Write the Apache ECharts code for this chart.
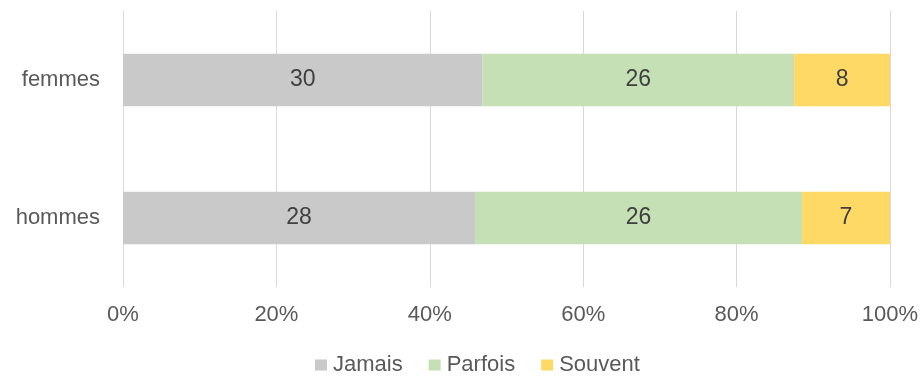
<!DOCTYPE html>
<html>
<head>
<meta charset="utf-8">
<style>
  html, body { margin: 0; padding: 0; background: #fff; }
  #chart { width: 923px; height: 376px; }
</style>
<script src="https://cdn.jsdelivr.net/npm/echarts@6/dist/echarts.min.js"></script>
</head>
<body>
<div id="chart"></div>
<script>
// Groups, bottom to top on the category axis
const categories = ['hommes', 'femmes'];
// Raw counts per answer
const jamais = [28, 30];
const parfois = [26, 26];
const souvent = [7, 8];
const seriesNames = ['Jamais', 'Parfois', 'Souvent'];
const xTickLabels = ['0%', '20%', '40%', '60%', '80%', '100%'];

const raw = [jamais, parfois, souvent];
const totals = categories.map((_, i) => raw.reduce((s, arr) => s + arr[i], 0));
const colors = ['#C9C9C9', '#C5E0B4', '#FFD966'];

const chart = echarts.init(document.getElementById('chart'), null, { renderer: 'canvas' });
const font = 'Liberation Sans, Arial, Helvetica, sans-serif';

chart.setOption({
  animation: false,
  textStyle: { fontFamily: font },
  grid: { left: 123, right: 33, top: 11, height: 276, containLabel: false },
  legend: {
    left: 310,
    top: 349,
    itemWidth: 12,
    itemHeight: 11,
    itemGap: 26,
    icon: 'rect',
    textStyle: { color: '#595959', fontSize: 22, fontFamily: font, padding: [0, 0, 0, 1] },
    data: seriesNames
  },
  xAxis: {
    type: 'value',
    min: 0,
    max: 100,
    interval: 20,
    axisLine: { show: false },
    axisTick: { show: false },
    splitLine: { lineStyle: { color: '#D9D9D9', width: 1 } },
    axisLabel: {
      color: '#595959',
      fontSize: 22,
      margin: 17,
      fontFamily: font,
      formatter: (v) => xTickLabels[Math.round(v / 20)]
    }
  },
  yAxis: {
    type: 'category',
    data: categories,
    axisLine: { show: false },
    axisTick: { show: false },
    axisLabel: { color: '#595959', fontSize: 22, margin: 23, fontFamily: font }
  },
  series: raw.map((arr, k) => ({
    name: seriesNames[k],
    type: 'bar',
    stack: 'total',
    barWidth: '38%',
    itemStyle: { color: colors[k] },
    label: {
      show: true,
      position: 'inside',
      color: '#404040',
      fontSize: 23,
      fontFamily: font,
      formatter: (p) => String(arr[p.dataIndex])
    },
    data: arr.map((v, i) => v / totals[i] * 100)
  }))
});
</script>
</body>
</html>
